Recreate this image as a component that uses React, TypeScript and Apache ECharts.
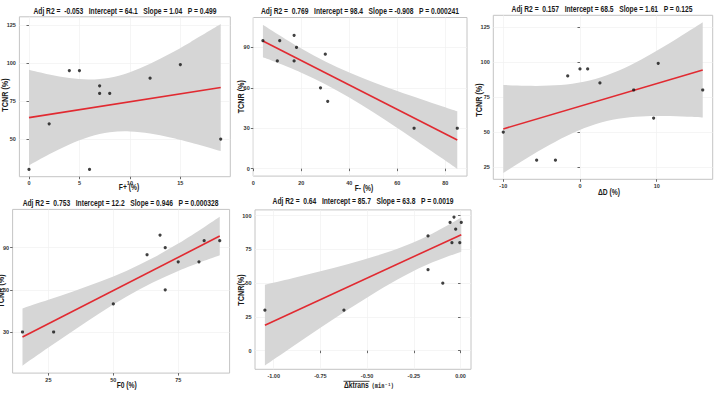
import React, { useEffect, useRef } from 'react';
import * as echarts from 'echarts';

// ---------- data ----------
// Panel 1: F+ (%)
const fPlus = [0, 2, 4, 5, 6, 7, 7, 8, 12, 15, 19];
const tcnrFPlus = [30, 60, 95, 95, 30, 85, 80, 80, 90, 99, 50];
const bandFPlusX = [0, 2, 4, 6, 8, 10, 12, 14, 16, 19];
const bandFPlusLow = [32.65, 39.94, 46.42, 51.5, 54.47, 55.02, 53.65, 51.06, 47.77, 42.11];
const bandFPlusHigh = [95.55, 92.42, 90.1, 89.18, 90.37, 93.98, 99.51, 106.26, 113.71, 125.61];
const fitFPlusX = [0, 19];
const fitFPlusY = [64.1, 83.86];

// Panel 2: F- (%)
const fMinus = [4, 11, 17, 10, 17, 18, 30, 28, 31, 67, 85];
const tcnrFMinus = [95, 95, 99, 80, 80, 90, 85, 60, 50, 30, 30];
const bandFMinusX = [4, 10, 20, 30, 40, 50, 60, 70, 78, 85];
const bandFMinusLow = [82.65, 78.62, 71.28, 62.76, 52.83, 41.81, 30.16, 18.16, 8.42, -0.17];
const bandFMinusHigh = [106.88, 100.02, 89.2, 79.56, 71.33, 64.19, 57.68, 51.52, 46.73, 42.61];
const fitFMinusX = [4, 85];
const fitFMinusY = [94.77, 21.22];

// Panel 3: ΔD (%)
const deltaD = [-10, -5.65, -3.2, -1.6, 0, 1.0, 2.6, 7.0, 9.6, 10.2, 16.0];
const tcnrDeltaD = [50, 30, 30, 90, 95, 95, 85, 80, 60, 99, 80];
const bandDeltaDX = [-10, -7, -4, -1, 2, 5, 8, 11, 14, 16];
const bandDeltaDLow = [20.96, 31.22, 40.82, 49.22, 55.61, 59.45, 61.1, 61.41, 60.98, 60.45];
const bandDeltaDHigh = [83.52, 82.98, 83.12, 84.44, 87.77, 93.67, 101.74, 111.15, 121.3, 128.33];
const fitDeltaDX = [-10, 16];
const fitDeltaDY = [52.3, 94.3];

// Panel 4: F0 (%)
const fZero = [15, 27, 50, 63, 68, 70, 70, 75, 83, 85, 91];
const tcnrFZero = [30, 30, 50, 85, 99, 90, 60, 80, 80, 95, 95];
const bandFZeroX = [15, 25, 35, 45, 55, 65, 75, 85, 91];
const bandFZeroLow = [6.04, 18.88, 31.48, 43.65, 55.03, 65.03, 73.44, 80.69, 84.68];
const bandFZeroHigh = [46.78, 52.88, 59.2, 65.95, 73.51, 82.43, 92.94, 104.63, 111.98];
const fitFZeroX = [15, 91];
const fitFZeroY = [26.39, 98.29];

// Panel 5: Δktrans (min⁻¹)
const dKtrans = [-1.047, -0.624, -0.174, -0.174, -0.095, -0.056, -0.035, -0.046, -0.026, -0.004, 0.004];
const tcnrKtrans = [30, 30, 85, 60, 50, 95, 99, 80, 90, 80, 95];
const bandKtransX = [-1.047, -0.9, -0.75, -0.6, -0.45, -0.3, -0.15, 0.004];
const bandKtransLow = [-11.04, 2.88, 16.9, 30.61, 43.71, 55.6, 65.45, 73.31];
const bandKtransHigh = [48.84, 53.68, 58.8, 64.23, 70.27, 77.52, 86.81, 98.61];
const fitKtransX = [-1.047, 0.004];
const fitKtransY = [18.9, 85.96];

// statistics shown in the titles
const adjR2 = ['-0.053', '0.769', '0.157', '0.753', '0.64'];
const intercepts = ['64.1', '98.4', '68.5', '12.2', '85.7'];
const slopes = ['1.04', '-0.908', '1.61', '0.946', '63.8'];
const pValues = ['0.499', '0.000241', '0.125', '0.000328', '0.0019'];

// tick labels
const xTicks1 = [0, 5, 10, 15];
const yTicks1 = [50, 75, 100, 125];
const xTicks2 = [0, 20, 40, 60, 80];
const yTicks2 = [0, 30, 60, 90];
const xTicks3 = [-10, 0, 10];
const yTicks3 = [25, 50, 75, 100, 125];
const xTicks4 = [25, 50, 75];
const yTicks4 = [30, 60, 90];
const xTicks5 = [-1, -0.75, -0.5, -0.25, 0];
const yTicks5 = [0, 25, 50, 75, 100];

const xNames = ['F+ (%)', 'F- (%)', 'ΔD (%)', 'F0 (%)', null];
const yNames = ['TCNR (%)', 'TCNR (%)', 'TCNR (%)', 'TCNR (%)', 'TCNR(%)'];

const panelsData = [
  { x: fPlus, y: tcnrFPlus, bx: bandFPlusX, lo: bandFPlusLow, hi: bandFPlusHigh, fx: fitFPlusX, fy: fitFPlusY, xt: xTicks1, yt: yTicks1 },
  { x: fMinus, y: tcnrFMinus, bx: bandFMinusX, lo: bandFMinusLow, hi: bandFMinusHigh, fx: fitFMinusX, fy: fitFMinusY, xt: xTicks2, yt: yTicks2 },
  { x: deltaD, y: tcnrDeltaD, bx: bandDeltaDX, lo: bandDeltaDLow, hi: bandDeltaDHigh, fx: fitDeltaDX, fy: fitDeltaDY, xt: xTicks3, yt: yTicks3 },
  { x: fZero, y: tcnrFZero, bx: bandFZeroX, lo: bandFZeroLow, hi: bandFZeroHigh, fx: fitFZeroX, fy: fitFZeroY, xt: xTicks4, yt: yTicks4 },
  { x: dKtrans, y: tcnrKtrans, bx: bandKtransX, lo: bandKtransLow, hi: bandKtransHigh, fx: fitKtransX, fy: fitKtransY, xt: xTicks5, yt: yTicks5 },
];

// ---------- layout ----------
const layouts = [
  { left: 19.4, top: 16.8, width: 210.9, height: 159.9, xMin: -0.95, xMax: 19.95, yMin: 25.22, yMax: 130.39, tX: 125, tY: 11.7, xnX: 129, xnY: 187.7, ynX: 5, ynY: 95 },
  { left: 253.2, top: 17.5, width: 213.8, height: 158.6, xMin: -0.05, xMax: 89.05, yMin: -5.52, yMax: 112.23, tX: 360, tY: 11.7, xnX: 364, xnY: 188.5, ynX: 241.7, ynY: 96.7 },
  { left: 493.3, top: 15.3, width: 219.4, height: 164, xMin: -11.3, xMax: 17.3, yMin: 16.4, yMax: 133.2, tX: 602, tY: 9.5, xnX: 609, xnY: 192.5, ynX: 479.3, ynY: 100 },
  { left: 10.5, top: 209.4, width: 219.1, height: 163.7, xMin: 11.2, xMax: 94.8, yMin: 0.74, yMax: 117.28, tX: 120.5, tY: 203.3, xnX: 126.7, xnY: 385, ynX: 1.5, ynY: 291 },
  { left: 255, top: 209.9, width: 216, height: 159.4, xMin: -1.1, xMax: 0.056, yMin: -13.8, yMax: 104.3, tX: 363, tY: 201.7, xnX: 369, xnY: 385.5, ynX: 241.7, ynY: 290 },
];

const FONT = 'Liberation Sans, Arial, sans-serif';
const SQUEEZE = 0.79;
const GAP = '\u00a0\u00a0\u00a0';
const BAND_COLOR = '#d6d6d6';
const LINE_COLOR = '#e12a31';

function titleText(i: number) {
  return `Adj R2 =\u00a0\u00a0${adjR2[i]}${GAP}Intercept = ${intercepts[i]}${GAP}Slope = ${slopes[i]}${GAP}P = ${pValues[i]}`;
}

// Smooth SVG path (Catmull-Rom -> cubic Bezier) through pixel points.
function smoothSegments(pts: number[][]): string {
  let s = '';
  for (let i = 0; i < pts.length - 1; i++) {
    const p0 = pts[i - 1] || pts[i];
    const p1 = pts[i];
    const p2 = pts[i + 1];
    const p3 = pts[i + 2] || p2;
    const c1x = p1[0] + (p2[0] - p0[0]) / 6;
    const c1y = p1[1] + (p2[1] - p0[1]) / 6;
    const c2x = p2[0] - (p3[0] - p1[0]) / 6;
    const c2y = p2[1] - (p3[1] - p1[1]) / 6;
    s += ` C${c1x},${c1y} ${c2x},${c2y} ${p2[0]},${p2[1]}`;
  }
  return s;
}

function buildOption() {
  const grid: any[] = [];
  const xAxis: any[] = [];
  const yAxis: any[] = [];
  const series: any[] = [];
  const graphic: any[] = [];

  panelsData.forEach((p, i) => {
    const L = layouts[i];
    grid.push({
      left: L.left, top: L.top, width: L.width, height: L.height,
      show: true, backgroundColor: '#ffffff', borderColor: '#c4c4c4', borderWidth: 1,
    });
    const axisCommon = {
      gridIndex: i,
      type: 'value',
      axisLine: { show: false },
      splitLine: { show: true, lineStyle: { color: '#f1f1f1', width: 0.7 } },
    };
    xAxis.push({
      ...axisCommon,
      min: L.xMin, max: L.xMax,
      axisTick: { show: true, length: 2.5, lineStyle: { color: '#444', width: 0.8 }, customValues: p.xt },
      axisLabel: {
        customValues: p.xt, fontSize: 5.5, fontWeight: 'bold', color: '#333', margin: 3.5, fontFamily: FONT,
        formatter: (v: number) => (i === 4 ? v.toFixed(2) : String(v)),
      },
    });
    yAxis.push({
      ...axisCommon,
      min: L.yMin, max: L.yMax,
      axisTick: { show: true, length: 2.5, lineStyle: { color: '#444', width: 0.8 }, customValues: p.yt },
      axisLabel: { customValues: p.yt, fontSize: 5.5, fontWeight: 'bold', color: '#333', margin: 3.5, fontFamily: FONT },
    });

    // confidence band
    series.push({
      type: 'custom', xAxisIndex: i, yAxisIndex: i, silent: true, z: 1,
      data: [[p.bx[0], p.lo[0]]],
      renderItem: (_params: any, api: any) => {
        const up = p.bx.map((x, k) => api.coord([x, p.hi[k]]));
        const lo = p.bx.map((x, k) => api.coord([x, p.lo[k]])).reverse();
        const d = `M${up[0][0]},${up[0][1]}` + smoothSegments(up) +
          ` L${lo[0][0]},${lo[0][1]}` + smoothSegments(lo) + ' Z';
        return { type: 'path', shape: { pathData: d }, style: { fill: BAND_COLOR, stroke: 'none' } };
      },
    });
    series.push({
      type: 'line', xAxisIndex: i, yAxisIndex: i,
      data: p.fx.map((x, k) => [x, p.fy[k]]), symbol: 'none',
      lineStyle: { color: LINE_COLOR, width: 1.6 }, silent: true, z: 3,
    });
    series.push({
      type: 'scatter', xAxisIndex: i, yAxisIndex: i,
      data: p.x.map((x, k) => [x, p.y[k]]), symbolSize: 3.2,
      itemStyle: { color: '#111111' }, silent: true, z: 4,
    });

    // title
    graphic.push({
      type: 'text', x: L.tX, y: L.tY, scaleX: SQUEEZE, silent: true,
      style: {
        text: titleText(i), fontSize: 8.5, fontWeight: 'bold', fontFamily: FONT, fill: '#1a1a1a',
        textAlign: 'center', textVerticalAlign: 'middle', align: 'center', verticalAlign: 'middle',
      },
    });
    // y name
    graphic.push({
      type: 'text', x: L.ynX, y: L.ynY, scaleX: 0.85, rotation: Math.PI / 2, silent: true,
      style: {
        text: yNames[i], fontSize: 8.5, fontWeight: 'bold', fontFamily: FONT, fill: '#1a1a1a',
        textAlign: 'center', textVerticalAlign: 'middle', align: 'center', verticalAlign: 'middle',
      },
    });
    // x name
    if (xNames[i]) {
      graphic.push({
        type: 'text', x: L.xnX, y: L.xnY, scaleX: SQUEEZE, silent: true,
        style: {
          text: xNames[i], fontSize: 8.5, fontWeight: 'bold', fontFamily: FONT, fill: '#1a1a1a',
          textAlign: 'center', textVerticalAlign: 'middle', align: 'center', verticalAlign: 'middle',
        },
      });
    } else {
      graphic.push({
        type: 'text', x: L.xnX, y: L.xnY, scaleX: SQUEEZE, silent: true,
        style: {
          text: '{a|Δktrans} {b|(min⁻¹)}',
          rich: {
            a: { fontSize: 8.5, fontWeight: 'bold', fontFamily: FONT, fill: '#1a1a1a' },
            b: { fontSize: 6.8, fontWeight: 'bold', fontFamily: 'DejaVu Sans Mono, monospace', fill: '#1a1a1a' },
          },
          textAlign: 'center', textVerticalAlign: 'middle', align: 'center', verticalAlign: 'middle',
        },
      });
      graphic.push({
        type: 'line', silent: true,
        shape: { x1: 343.5, y1: 381.3, x2: 369.5, y2: 381.3 },
        style: { stroke: '#1a1a1a', lineWidth: 0.8 },
      });
    }
  });

  return {
    animation: false,
    backgroundColor: '#ffffff',
    grid, xAxis, yAxis, series, graphic,
  };
}

export default function App() {
  const ref = useRef<HTMLDivElement>(null);
  useEffect(() => {
    if (!ref.current) return;
    const chart = echarts.init(ref.current, undefined, { renderer: 'svg' });
    chart.setOption(buildOption() as any);
    return () => chart.dispose();
  }, []);
  return (
    <div
      ref={ref}
      style={{ position: 'absolute', left: 0, top: 0, width: 716, height: 399, background: '#ffffff' }}
    />
  );
}
